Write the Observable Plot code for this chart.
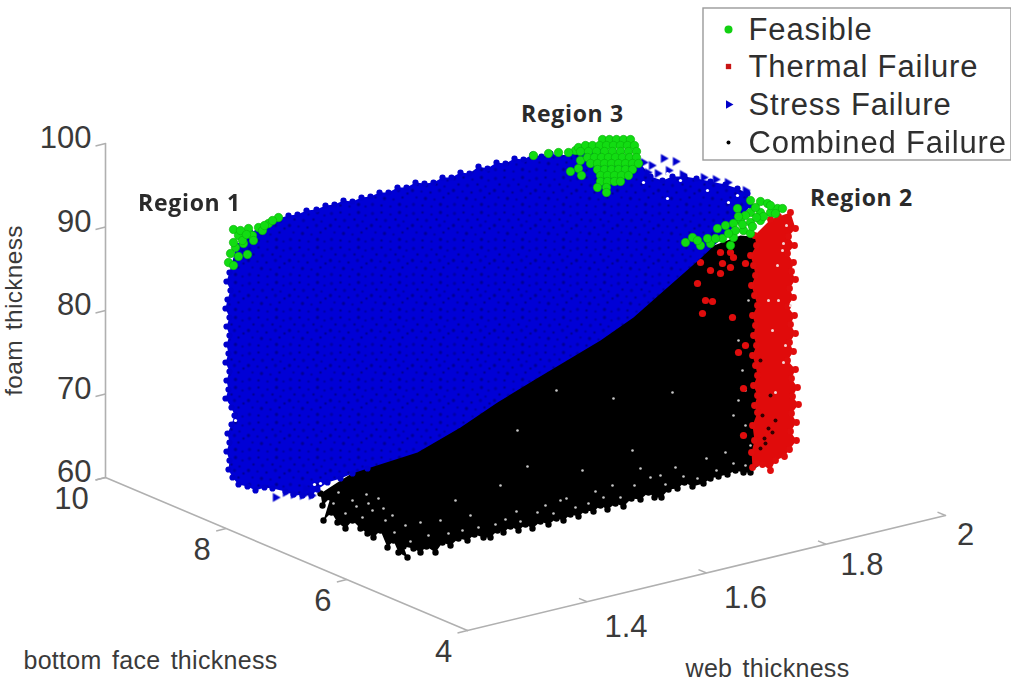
<!DOCTYPE html>
<html><head><meta charset="utf-8">
<script src="https://cdn.jsdelivr.net/npm/d3@7"></script>
<script src="https://cdn.jsdelivr.net/npm/@observablehq/plot@0.6"></script>
<style>html,body{margin:0;padding:0;background:#fff}svg{display:block}
.lg text{letter-spacing:.85px}.at text{letter-spacing:.3px;word-spacing:3px}.rg text{letter-spacing:.7px}</style>
</head><body><div id="chart"></div>
<script>
// Tick values of the three axes
const foamTicks = [60,70,80,90,100];
const bottomTicks = [4,6,8,10];
const webTicks = [1.4,1.6,1.8,2];
const axisTitles = ["foam thickness","bottom face thickness","web thickness"];
const legendLabels = ["Feasible","Thermal Failure","Stress Failure","Combined Failure"];
const regionLabels = ["Region 1","Region 2","Region 3"];

// Clouds, in the projected plane of the 3D view (pairs of across, down)
const stressLeft = [[229,272],[226,281],[230,290],[227,299],[225,308],[229,317],[226,326],[229,335],[226,344],[228,353],[225,362],[229,371],[226,380],[228,389],[225,398],[231,407],[234,415],[231,424],[227,433],[229,442],[226,451],[229,460],[228,469],[232,477],[238,484]];
const stressBase = [[247,486],[255,490],[264,487],[272,488],[285,491],[293,494],[302,495],[311,495],[317,489],[327,482],[340,478],[352,473],[367,468]];
const stressDiagonal = [[417,452],[460,427],[497,402],[533,380],[600,340],[633,317],[667,287],[700,258],[735,225]];
const stressTop = [[236,245],[250,232],[278,218],[288,215],[297,214],[306,210],[316,209],[325,205],[334,204],[343,200],[352,201],[361,197],[370,196],[379,192],[388,192],[397,187],[406,187],[415,182],[424,183],[433,182],[442,177],[451,177],[460,172],[469,173],[478,166],[487,168],[496,162],[505,163],[514,158],[523,159],[532,154],[541,156],[550,153],[559,155],[600,150]];
const stressShoulder = [[640,163],[650,176],[662,180],[672,176],[684,176],[696,178],[710,181],[725,184],[737,188],[747,193],[750,205]];
const stressLoose = [[643,162],[651,165],[647,172],[663,158],[675,161],[657,173],[668,170],[682,174],[703,177],[715,179],[727,182],[745,190],[275,497],[285,492],[293,494],[302,495],[311,495],[305,488]];
const stressHoles = [[643,182],[667,173],[680,180],[667,198],[728,202],[737,195],[707,190],[314,484],[320,483],[235,420]];

const combinedEdge = [[320,493],[322,505],[330,497],[323,520],[331,512],[337,522],[345,528],[352,520],[360,528],[367,533],[373,537],[380,530],[387,547],[393,540],[398,552],[407,557],[403,546],[413,548],[420,552],[426,546],[435,552],[442,542],[450,545],[458,538],[467,540],[474,534],[483,537],[490,537],[497,530],[503,532],[510,526],[518,530],[525,524],[532,528],[540,521],[548,524],[556,518],[563,520],[570,514],[578,516],[585,510],[593,511],[600,505],[607,509],[615,503],[623,506],[631,498],[640,499],[648,492],[654,497],[661,497],[668,489],[677,488],[684,482],[692,486],[703,483],[710,478],[718,476],[727,474],[735,470],[743,472],[750,472]];
const combinedTop = [[762,462],[762,237],[740,235],[700,250],[500,380],[340,480]];
const combinedSpecks = [[333,503],[345,513],[356,506],[362,517],[372,510],[385,520],[383,508],[366,494],[394,532],[410,541],[428,535],[448,533],[462,530],[478,527],[495,524],[505,519],[520,521],[537,512],[553,513],[575,507],[588,503],[603,497],[620,497],[634,485],[650,477],[665,484],[683,476],[697,478],[716,470],[733,463],[745,465],[640,468],[632,450],[582,470],[560,500],[455,500],[470,515],[500,485],[527,466],[517,430],[556,390],[672,392],[613,398],[733,415],[745,390],[745,425],[750,445],[738,400],[742,370],[738,340],[748,300],[338,492],[352,500],[368,503],[378,498],[392,515],[405,525],[420,522],[440,520],[516,511],[545,505],[566,498],[595,491],[612,485],[660,475],[675,467],[706,458],[725,452]];
const thermalRight = [[754,235],[770,219],[778,216],[790,212],[795,228],[788,236],[794,245],[787,253],[793,262],[791,271],[795,279],[789,288],[793,297],[787,306],[794,315],[790,324],[795,333],[789,342],[793,351],[787,360],[795,369],[791,378],[797,387],[792,396],[798,404],[791,413],[796,422],[790,431],[796,440],[789,449],[784,456],[775,460],[770,470],[762,464],[756,463],[752,467]];
const thermalLeft = [[751,452],[754,440],[752,425],[757,412],[754,405],[757,395],[753,385],[757,375],[755,365],[752,355],[756,345],[753,335],[755,325],[752,315],[757,305],[754,295],[751,285],[755,275],[753,265],[750,255],[756,245]];
const thermalLoose = [[743,388],[743,435],[720,252],[730,252],[733,257],[700,262],[722,263],[730,267],[745,263],[710,270],[720,273],[697,283],[705,300],[712,301],[702,313],[732,317],[745,345],[738,352]];
const thermalLightSpecks = [[783,243],[777,265],[790,305],[772,330],[783,362],[775,392],[782,250],[778,300],[785,345],[786,225],[768,300]];
const thermalDarkSpecks = [[768,428],[772,432],[760,448],[765,443],[762,415],[775,420],[764,438],[770,395],[760,360]];
const feasibleRegion1 = [[233,229],[248,228],[258,227],[268,223],[278,217],[238,235],[252,235],[235,247],[243,243],[230,253],[228,262],[233,265],[247,254],[253,240],[262,230],[242,240],[233,242],[240,230],[272,220],[238,256],[246,234],[264,225]];
const feasibleRegion3 = [[533,155],[548,153],[558,152],[570,171],[578,168],[581,175],[580,160],[575,150],[568,152],[578,147],[586,146],
[602,139],[609,139],[616,139],[623,139],[630,139],[585,145],[592,145],[599,145],[606,145],[613,145],[620,145],[627,145],[634,145],
[580,151],[588,151],[596,151],[604,151],[612,151],[620,151],[628,151],[636,151],[587,157],[594,157],[601,157],[608,157],[615,157],[622,157],[629,157],[636,157],
[590,163],[597,163],[604,163],[611,163],[618,163],[625,163],[632,163],[638,163],[597,169],[604,169],[611,169],[618,169],[625,169],[632,169],
[600,175],[607,175],[614,175],[621,175],[628,175],[600,181],[607,181],[614,181],[620,181],[597,187],[606,187],[606,192]];
const feasibleRegion2 = [[750,200],[760,201],[767,203],[777,208],[782,208],[770,212],[760,212],[750,212],[740,220],[750,222],[760,220],[733,223],[743,230],[750,233],[733,237],[730,245],[717,228],[737,208],[725,225],[722,238],[685,242],[700,245],[710,243],[692,237],[707,238],[755,207],[745,215],[735,230],[742,224],[752,226],[763,216],[770,205],[775,213],[728,233],[697,240],[715,238],[738,216],[756,217]];

const stressBody = [...stressTop,...stressShoulder,...stressDiagonal.slice().reverse(),...stressBase.slice().reverse(),...stressLeft.slice().reverse()];
const combinedBody = [...combinedEdge,...combinedTop];
const thermalBody = [...thermalRight,...thermalLeft];

const legendColors = ["#12d012","#c81414","#0000c8","#000000"];
const project = (web, bottom, foam) => [
  467 + (web - 1.2) / 0.8 * 478 - (bottom - 4) / 6 * 362,
  630 - (web - 1.2) / 0.8 * 115 - (bottom - 4) / 6 * 153 - (foam - 60) * 8.35
];
const corner = project(1.2,10,60), corner4 = project(1.2,4,60), corner2 = project(2,4,60), top100 = project(1.2,10,100);
const axisLines = [[corner,top100],[corner,corner4],[corner4,corner2]];
const foamRows = foamTicks.map(v => ({v, p: project(1.2,10,v)}));
const bottomRows = bottomTicks.map(v => ({v, p: project(1.2,v,60)}));
const webRows = webTicks.map(v => ({v, p: project(v,4,60)}));

const xs = d => d[0], ys = d => d[1];
const blurred = {imageFilter: "blur(0.6px)"};
const patterns = () => {
  const ns = "http://www.w3.org/2000/svg";
  const g = document.createElementNS(ns, "defs");
  const spots = [[3,3],[12,2],[21,4],[30,2],[37,5],[7,9],[16,10],[26,9],[34,11],[2,15],[11,16],[20,17],[29,15],[38,18],[6,22],[15,23],[24,24],[33,22],[3,29],[12,30],[21,31],[30,29],[37,31]];
  g.innerHTML = `<pattern id="bluePat" width="41" height="35" patternUnits="userSpaceOnUse"><rect width="41" height="35" fill="#0000d6"/>${spots.map(([a,b],i)=>`<circle cx="${a}" cy="${b}" r="${i%3?1.3:1.7}" fill="${i%2?"#000094":"#0000a8"}"/>`).join("")}</pattern>`;
  return g;
};
const font = "Liberation Sans, Arial, sans-serif";
const textCol = "#3a3a3a";

const legendRows = legendLabels.map((label,i)=>({label, i, across:728, down:[29,66,104,142][i]}));
const bottomShift = v => v === 10 ? -34 : -24;
const webShift = v => v === 2 ? [20,20] : v === 1.8 ? [36,21] : [39,25.5];

const chart = Plot.plot({
  width:1011, height:681, margin:0,
  x:{domain:[0,1011],axis:null}, y:{domain:[681,0],axis:null},
  style:{background:"#fff"},
  marks:[
    patterns,
    // axes
    ...axisLines.map(seg => Plot.line(seg,{x:xs,y:ys,stroke:"#b0b0b0",strokeWidth:1.6})),
    Plot.link(foamRows,{x1:d=>d.p[0],y1:d=>d.p[1],x2:d=>d.p[0]-10,y2:d=>d.p[1]+2.5,stroke:"#b0b0b0",strokeWidth:1.4}),
    Plot.link(bottomRows,{x1:d=>d.p[0],y1:d=>d.p[1],x2:d=>d.p[0]-10,y2:d=>d.p[1]+2.5,stroke:"#b0b0b0",strokeWidth:1.4}),
    Plot.link(webRows,{x1:d=>d.p[0],y1:d=>d.p[1],x2:d=>d.p[0]-8,y2:d=>d.p[1]-3.4,stroke:"#b0b0b0",strokeWidth:1.4}),
    Plot.text(foamRows,{x:d=>d.p[0]-14,y:d=>d.p[1]-5,text:d=>String(d.v),textAnchor:"end",fontSize:31,fill:textCol,fontFamily:font}),
    Plot.text(bottomRows,{x:d=>d.p[0]+bottomShift(d.v),y:d=>d.p[1]+22,text:d=>String(d.v),textAnchor:"middle",fontSize:31,fill:textCol,fontFamily:font}),
    Plot.text(webRows,{x:d=>d.p[0]+webShift(d.v)[0],y:d=>d.p[1]+webShift(d.v)[1],text:d=>String(d.v),fontSize:31,fill:textCol,fontFamily:font}),
    // clouds
    Plot.line(combinedBody,{x:xs,y:ys,fill:"#000",stroke:"none",...blurred}),
    Plot.dot(combinedEdge,{x:xs,y:ys,r:3.2,fill:"#000",...blurred}),
    Plot.dot(combinedSpecks,{x:xs,y:ys,r:1.3,fill:"#c8c8c8",...blurred}),
    Plot.line(thermalBody,{x:xs,y:ys,fill:"#e00b0b",stroke:"none",...blurred}),
    Plot.dot([...thermalRight,...thermalLeft],{x:xs,y:ys,r:3.4,fill:"#e00d0d",...blurred}),
    Plot.dot(thermalLoose,{x:xs,y:ys,r:3.6,fill:"#e00d0d",...blurred}),
    Plot.dot(thermalLightSpecks,{x:xs,y:ys,r:1.5,fill:"#f3d6d6",...blurred}),
    Plot.dot(thermalDarkSpecks,{x:xs,y:ys,r:2,fill:"#300",...blurred}),
    Plot.line(stressBody,{x:xs,y:ys,fill:"url(#bluePat)",stroke:"none",...blurred}),
    Plot.dot([...stressLeft,...stressTop,...stressBase,...stressShoulder],{x:xs,y:ys,r:3.1,fill:"#0000cc",...blurred}),
    Plot.dot(stressLoose,{x:xs,y:ys,symbol:"triangle",rotate:90,r:3.4,fill:"#0000cc",...blurred}),
    Plot.dot(stressHoles,{x:xs,y:ys,r:1.6,fill:"#fff",...blurred}),
    Plot.dot([...feasibleRegion1,...feasibleRegion3,...feasibleRegion2],{x:xs,y:ys,r:4.2,fill:"#12dc12",stroke:"#0ab00a",strokeWidth:0.6,...blurred}),
    // legend
    Plot.rect([0],{x1:703,x2:1011,y1:8,y2:160,fill:"#fff",stroke:"#9a9a9a",strokeWidth:1.4}),
    Plot.dot(legendRows.filter(d=>d.i===0),{x:"across",y:"down",r:4,fill:legendColors[0],...blurred}),
    Plot.dot(legendRows.filter(d=>d.i===1),{x:"across",y:"down",symbol:"square",r:3,fill:legendColors[1],...blurred}),
    Plot.dot(legendRows.filter(d=>d.i===2),{x:"across",y:"down",symbol:"triangle",rotate:90,r:3.2,fill:legendColors[2],...blurred}),
    Plot.dot(legendRows.filter(d=>d.i===3),{x:"across",y:"down",r:2,fill:legendColors[3],...blurred}),
    Plot.text(legendRows,{x:748,y:d=>d.down+1,text:"label",textAnchor:"start",fontSize:31,className:"lg",fill:"#2f2f2f",fontFamily:font}),
    // titles
    Plot.text([axisTitles[0]],{x:14,y:310,text:d=>d,rotate:-90,fontSize:24.5,className:"at",fill:textCol,fontFamily:font}),
    Plot.text([axisTitles[1]],{x:150,y:660,text:d=>d,fontSize:25,className:"at",fill:textCol,fontFamily:font}),
    Plot.text([axisTitles[2]],{x:767,y:668,text:d=>d,fontSize:25,className:"at",fill:textCol,fontFamily:font}),
    // region labels
    Plot.text([regionLabels[0]],{x:189,y:203,text:d=>d,fontSize:23,fontWeight:700,className:"rg",fill:"#2a2a2a",fontFamily:"Open Sans, sans-serif"}),
    Plot.text([regionLabels[1]],{x:861,y:198,text:d=>d,fontSize:23,fontWeight:700,className:"rg",fill:"#2a2a2a",fontFamily:"Open Sans, sans-serif"}),
    Plot.text([regionLabels[2]],{x:572,y:114,text:d=>d,fontSize:23,fontWeight:700,className:"rg",fill:"#2a2a2a",fontFamily:"Open Sans, sans-serif"})
  ]
});
document.getElementById("chart").append(chart);
</script></body></html>
